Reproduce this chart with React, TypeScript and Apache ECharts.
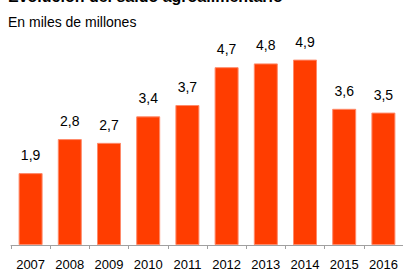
import React, { useEffect, useRef } from "react";
import * as echarts from "echarts";

const years = ["2007", "2008", "2009", "2010", "2011", "2012", "2013", "2014", "2015", "2016"];
const values = [1.9, 2.8, 2.7, 3.4, 3.7, 4.7, 4.8, 4.9, 3.6, 3.5];
const title = "Evolución del saldo agroalimentario";
const subtitle = "En miles de millones";

export default function App() {
  const ref = useRef<HTMLDivElement>(null);
  useEffect(() => {
    document.body.style.margin = "0";
    const chart = echarts.init(ref.current!, undefined, { renderer: "svg" });
    chart.setOption({
      animation: false,
      backgroundColor: "#ffffff",
      graphic: [
        {
          type: "text",
          left: 8,
          top: -12,
          style: { text: title, font: "bold 16px 'Liberation Sans', Arial, sans-serif", fill: "#000" },
        },
        {
          type: "text",
          left: 8,
          top: 15,
          style: { text: subtitle, font: "14px 'Liberation Sans', Arial, sans-serif", fill: "#000" },
        },
      ],
      grid: { left: 11, right: 0, top: 18, bottom: 26 },
      xAxis: {
        type: "category",
        data: years,
        boundaryGap: true,
        axisLine: { lineStyle: { color: "#a0a0a0", width: 1 } },
        axisTick: { show: true, length: 4, lineStyle: { color: "#a0a0a0" } },
        axisLabel: { color: "#000", fontSize: 13, fontFamily: "'Liberation Sans', Arial, sans-serif", margin: 13, interval: 0 },
      },
      yAxis: { type: "value", min: 0, max: 6, show: false, splitLine: { show: false } },
      series: [
        {
          type: "bar",
          data: values,
          barWidth: 24,
          itemStyle: { color: "#ff3d00", borderColor: "#ff8a6a", borderWidth: 1 },
          label: {
            show: true,
            position: "top",
            distance: 11,
            color: "#000",
            fontSize: 14,
            fontFamily: "'Liberation Sans', Arial, sans-serif",
            formatter: (p: any) => String(p.value).replace(".", ","),
          },
        },
      ],
    });
    return () => chart.dispose();
  }, []);
  return <div ref={ref} style={{ width: 403, height: 271 }} />;
}
